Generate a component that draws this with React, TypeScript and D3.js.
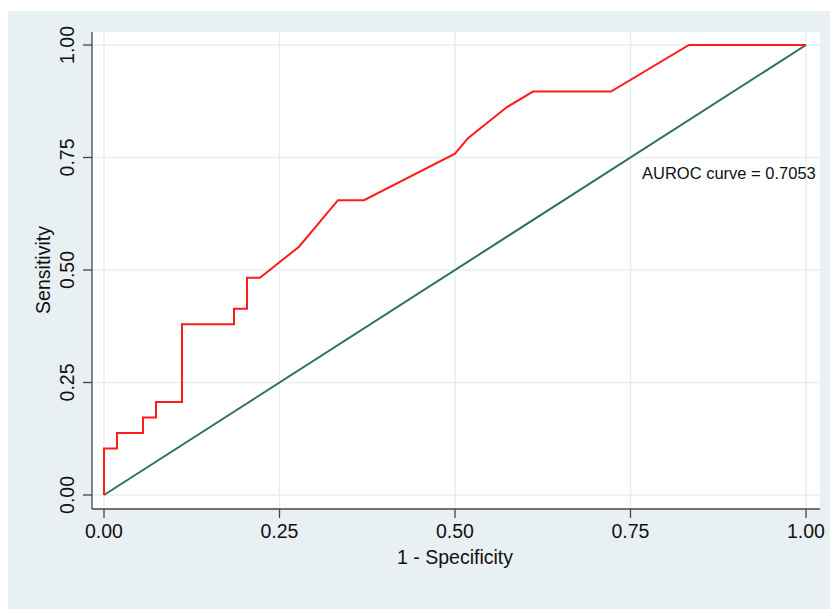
import * as d3 from 'd3';

// ROC curve points (1 - specificity, sensitivity)
const fpr = [0, 0, 0.0185, 0.0185, 0.0556, 0.0556, 0.0741, 0.0741, 0.1111, 0.1111, 0.1852, 0.1852, 0.2037, 0.2037, 0.2222, 0.2778, 0.3333, 0.3704, 0.5, 0.5185, 0.5741, 0.6111, 0.7222, 0.8333, 1];
const tpr = [0, 0.1034, 0.1034, 0.1379, 0.1379, 0.1724, 0.1724, 0.2069, 0.2069, 0.3793, 0.3793, 0.4138, 0.4138, 0.4828, 0.4828, 0.5517, 0.6552, 0.6552, 0.7586, 0.7931, 0.8621, 0.8966, 0.8966, 1, 1];
const refX = [0, 1];
const refY = [0, 1];
const ticks = [0, 0.25, 0.5, 0.75, 1];
const aucLabel = 'AUROC curve = 0.7053';
const xTitle = '1 - Specificity';
const yTitle = 'Sensitivity';

const W = 830;
const H = 609;
const font = '"Liberation Sans", Arial, Helvetica, sans-serif';

export default function App() {
  const x = d3.scaleLinear().domain([0, 1]).range([104, 806]);
  const y = d3.scaleLinear().domain([0, 1]).range([495, 45]);
  const plot = { left: 92, right: 820, top: 32, bottom: 509 };

  const line = d3.line<[number, number]>().x(d => x(d[0])).y(d => y(d[1]));
  const roc = line(fpr.map((v, i) => [v, tpr[i]] as [number, number])) ?? '';
  const diag = line(refX.map((v, i) => [v, refY[i]] as [number, number])) ?? '';
  const fmt = d3.format('.2f');

  return (
    <div style={{ position: 'absolute', left: 0, top: 0 }}>
      <svg width={W} height={H} style={{ display: 'block', background: '#fff' }} fontFamily={font}>
        <rect x={8} y={11} width={W - 8} height={H - 11} fill="#e9f0f3" />
        <rect x={plot.left} y={plot.top} width={plot.right - plot.left} height={plot.bottom - plot.top} fill="#fff" />

        {/* grid */}
        {ticks.map(t => (
          <g key={'g' + t}>
            <line x1={x(t)} x2={x(t)} y1={plot.top} y2={plot.bottom} stroke="#e6eef2" strokeWidth={1.5} />
            <line x1={plot.left} x2={plot.right} y1={y(t)} y2={y(t)} stroke="#e6eef2" strokeWidth={1.5} />
          </g>
        ))}

        <path d={diag} fill="none" stroke="#2f6f62" strokeWidth={2} />
        <path d={roc} fill="none" stroke="#ff1a1a" strokeWidth={2} strokeLinejoin="miter" />

        {/* axes */}
        <line x1={plot.left} x2={plot.left} y1={plot.top} y2={plot.bottom} stroke="#444" strokeWidth={1.3} />
        <line x1={plot.left} x2={plot.right} y1={plot.bottom} y2={plot.bottom} stroke="#444" strokeWidth={1.3} />

        {ticks.map(t => (
          <g key={'x' + t}>
            <line x1={x(t)} x2={x(t)} y1={plot.bottom} y2={plot.bottom + 9} stroke="#444" strokeWidth={1.3} />
            <text x={x(t)} y={538} textAnchor="middle" fontSize={19.5} fill="#111">{fmt(t)}</text>
          </g>
        ))}
        {ticks.map(t => (
          <g key={'y' + t}>
            <line x1={plot.left - 9} x2={plot.left} y1={y(t)} y2={y(t)} stroke="#444" strokeWidth={1.3} />
            <text transform={`translate(74,${y(t)}) rotate(-90)`} textAnchor="middle" fontSize={19.5} fill="#111">{fmt(t)}</text>
          </g>
        ))}

        <text x={455} y={564} textAnchor="middle" fontSize={19.5} fill="#111">{xTitle}</text>
        <text transform={`translate(50,270) rotate(-90)`} textAnchor="middle" fontSize={19.5} fill="#111">{yTitle}</text>

        <text x={642} y={179} fontSize={16.5} fill="#111">{aucLabel}</text>
      </svg>
    </div>
  );
}
